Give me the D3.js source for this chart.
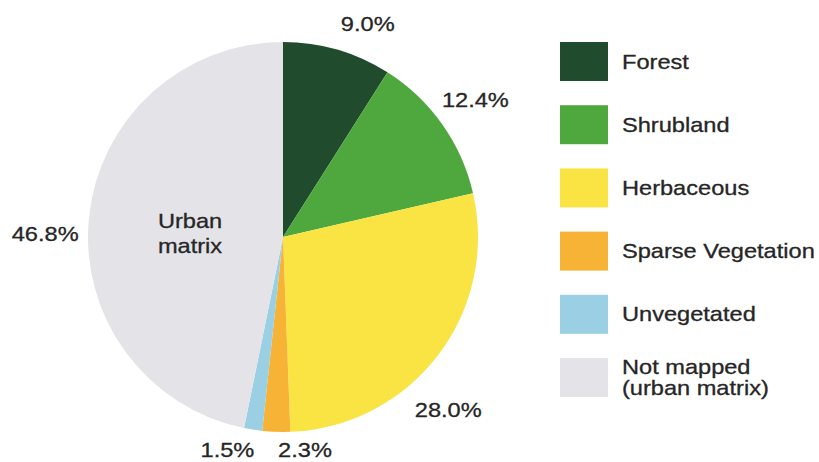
<!DOCTYPE html>
<html>
<head>
<meta charset="utf-8">
<script src="https://cdn.jsdelivr.net/npm/d3@7"></script>
<style>
  body { margin: 0; background: #fff; }
  text { font-family: "Liberation Sans", Arial, sans-serif; fill: #262626; stroke: #262626; stroke-width: 0.3px; }
</style>
</head>
<body>
<script>
(function(){

//chart data
var categories = ["Forest", "Shrubland", "Herbaceous", "Sparse Vegetation", "Unvegetated", "Not mapped"];
var shares = [9.0, 12.4, 28.0, 2.3, 1.5, 46.8]; //percent of area
var pctLabels = ["9.0%", "12.4%", "28.0%", "2.3%", "1.5%", "46.8%"];
var legendLabels = [["Forest"], ["Shrubland"], ["Herbaceous"], ["Sparse Vegetation"], ["Unvegetated"], ["Not mapped", "(urban matrix)"]];
var colors = ["#214b2d", "#4fa83d", "#fae444", "#f6b336", "#9bd0e4", "#e4e4e8"];

//layout
var width = 819, height = 462;
var cx = 283, cy = 237, radius = 195, labelRadius = 232;
var stretch = 1.18; //the source type is set a little wide
//small hand nudges for the outside labels, in category order
var nudge = [[20, 10], [3, -3], [-19, 32], [30, -19], [-20, -16], [-7, 20]];

var svg = d3.select("body")
    .append("svg")
    .attr("width", width)
    .attr("height", height);

var color = d3.scaleOrdinal()
    .domain(categories)
    .range(colors);

var pie = d3.pie()
    .sort(null)
    .value(function(d){ return d.value; });

var data = categories.map(function(c, i){
    return {name: c, value: shares[i], label: pctLabels[i], idx: i};
});

var arcs = pie(data);

var arc = d3.arc()
    .innerRadius(0)
    .outerRadius(radius);

var labelArc = d3.arc()
    .innerRadius(labelRadius)
    .outerRadius(labelRadius);

var chart = svg.append("g")
    .attr("transform", "translate(" + cx + "," + cy + ")");

//slices
chart.selectAll(".slice")
    .data(arcs)
    .enter()
    .append("path")
    .attr("class", "slice")
    .attr("d", arc)
    .style("fill", function(d){ return color(d.data.name); });

//percent labels around the pie
chart.selectAll(".pct")
    .data(arcs)
    .enter()
    .append("g")
    .attr("class", "pct")
    .attr("transform", function(d){
        var c = labelArc.centroid(d);
        var n = nudge[d.data.idx];
        return "translate(" + (c[0] + n[0]) + "," + (c[1] + n[1]) + ")";
    })
    .append("text")
    .attr("transform", "scale(" + stretch + ",1)")
    .attr("text-anchor", "middle")
    .attr("dy", "0.36em")
    .style("font-size", "20px")
    .text(function(d){ return d.data.label; });

//label inside the urban slice
var urban = arcs[arcs.length - 1];
var uc = arc.centroid(urban);
var inner = chart.append("g")
    .attr("transform", "translate(" + (uc[0] + 4) + "," + (uc[1] + 6) + ")")
    .append("text")
    .attr("transform", "scale(" + stretch + ",1)")
    .attr("text-anchor", "middle")
    .style("font-size", "20px");
inner.append("tspan").attr("x", 0).attr("y", -5).text("Urban");
inner.append("tspan").attr("x", 0).attr("y", 20).text("matrix");

//legend
var legendY = d3.scalePoint()
    .domain(categories)
    .range([42, 358]);

var sw = 48, sh = 39;
var legend = svg.selectAll(".legend")
    .data(categories)
    .enter()
    .append("g")
    .attr("class", "legend")
    .attr("transform", function(d){ return "translate(560," + legendY(d) + ")"; });

legend.append("rect")
    .attr("width", sw)
    .attr("height", sh)
    .style("fill", function(d){ return color(d); });

legend.each(function(d, i){
    var lines = legendLabels[i];
    var g = d3.select(this).append("g")
        .attr("transform", "translate(62," + (sh / 2) + ")");
    var t = g.append("text")
        .attr("transform", "scale(" + stretch + ",1)")
        .style("font-size", "20px");
    var step = 21;
    var first = 7 - (lines.length - 1) * step / 2;
    lines.forEach(function(s, k){
        t.append("tspan")
            .attr("x", 0)
            .attr("y", first + k * step)
            .text(s);
    });
});

})();
</script>
</body>
</html>
